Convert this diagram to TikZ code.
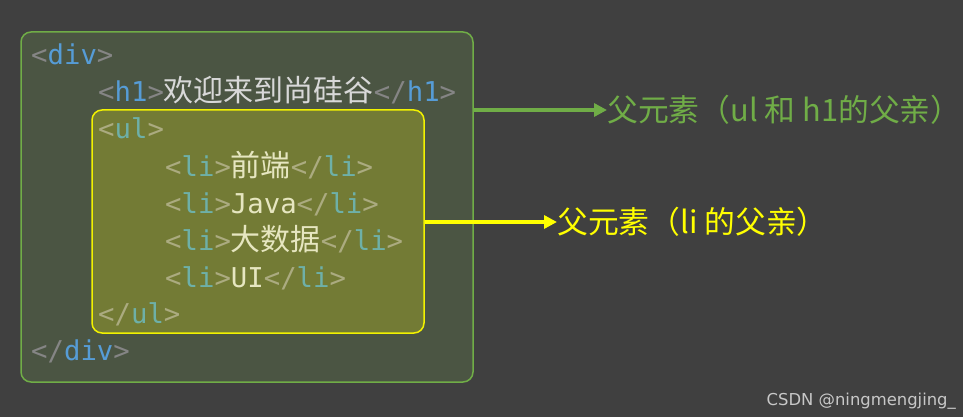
\documentclass[tikz,border=0pt]{standalone}
\usepackage{fontspec}
\setmonofont{DejaVu Sans Mono}
\newfontfamily\cjk{Noto Sans CJK SC}
\newfontfamily\wmfont{DejaVu Sans}
\usetikzlibrary{arrows.meta}
\definecolor{bgc}{HTML}{404040}
\definecolor{outfill}{HTML}{4B5543}
\definecolor{outline}{HTML}{70AD47}
\definecolor{infill}{HTML}{737B35}
\definecolor{inline}{HTML}{F2F200}
\definecolor{brk}{HTML}{858585}
\definecolor{tagb}{HTML}{569CD6}
\definecolor{txt}{HTML}{D8D8D8}
\definecolor{inbrk}{HTML}{ABAB80}
\definecolor{intag}{HTML}{6EB0A8}
\definecolor{intxt}{HTML}{E6E6C0}
\definecolor{lblgreen}{HTML}{70AD47}
\definecolor{lblyellow}{HTML}{FFFF00}
\definecolor{wm}{HTML}{C8C8C8}
\newcommand\mycj[1]{{\cjk\fontsize{30}{30}\selectfont #1}}
\newcommand\otag[2]{\textcolor{brk}{<#1}\textcolor{tagb}{#2}\textcolor{brk}{>}}
\newcommand\itag[2]{\textcolor{inbrk}{<#1}\textcolor{intag}{#2}\textcolor{inbrk}{>}}
\begin{document}
\begin{tikzpicture}[x=1pt,y=1pt,
  codeline/.style={inner sep=0pt,anchor=base west,font=\ttfamily\fontsize{27.3}{30}\selectfont},
  outerbox/.style={draw=outline,fill=outfill,line width=1.5pt,rounded corners=10pt,minimum width=452pt,minimum height=350pt,inner sep=0pt},
  innerbox/.style={draw=inline,fill=infill,line width=1.5pt,rounded corners=10pt,minimum width=332pt,minimum height=223pt,inner sep=0pt},
  lbl/.style={inner sep=0pt,anchor=west,font=\cjk\fontsize{30.8}{32}\selectfont},
  garrow/.style={draw=lblgreen,line width=3.5pt,-{Triangle[length=13pt,width=13pt]}},
  yarrow/.style={draw=lblyellow,line width=3.5pt,-{Triangle[length=13pt,width=13pt]}}]
\fill[bgc] (0,0) rectangle (963,-417);
\useasboundingbox (0,0) rectangle (963,-417);
\node[outerbox] (outer) at (247,-207) {};
\node[innerbox] (inner) at (258,-221.5) {};
\node[codeline] (l1) at (31,-65) {\otag{}{div}};
\node[codeline] (l2) at (98,-102) {\otag{}{h1}\textcolor{txt}{\mycj{欢迎来到尚硅谷}}\otag{/}{h1}};
\node[codeline] (l3) at (98,-139) {\itag{}{ul}};
\node[codeline] (l4) at (165,-176) {\itag{}{li}\textcolor{intxt}{\mycj{前端}}\itag{/}{li}};
\node[codeline] (l5) at (165,-213) {\itag{}{li}\textcolor{intxt}{Java}\itag{/}{li}};
\node[codeline] (l6) at (165,-250) {\itag{}{li}\textcolor{intxt}{\mycj{大数据}}\itag{/}{li}};
\node[codeline] (l7) at (165,-287) {\itag{}{li}\textcolor{intxt}{UI}\itag{/}{li}};
\node[codeline] (l8) at (98,-323) {\itag{/}{ul}};
\node[codeline] (l9) at (31,-360) {\otag{/}{div}};
\node[lbl,text=lblgreen] (gl) at (607,-110) {父元素（ul 和 h1的父亲）};
\node[lbl,text=lblyellow] (yl) at (557,-222) {父元素（li 的父亲）};
\draw[garrow] (outer.east |- gl.west) -- (gl.west);
\draw[yarrow] (inner.east |- yl.west) -- (yl.west);
\node[inner sep=0pt,anchor=base east,text=wm,font=\wmfont\fontsize{16.4}{17}\selectfont] (wmk) at (956,-405) {CSDN @ningmengjing\_};
\end{tikzpicture}
\end{document}
